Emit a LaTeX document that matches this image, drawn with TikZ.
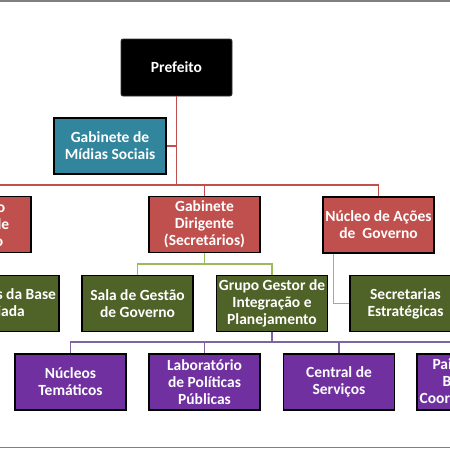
\documentclass[tikz,border=0pt]{standalone}
\usepackage{fontspec}
\setmainfont{Carlito}
\definecolor{boxred}{HTML}{C0504D}
\definecolor{boxteal}{HTML}{31859C}
\definecolor{boxgreen}{HTML}{4F6228}
\definecolor{boxpurple}{HTML}{7030A0}
\definecolor{linered}{HTML}{C0504D}
\definecolor{linegreen}{HTML}{9BBB59}
\definecolor{linepurple}{HTML}{8064A2}
\definecolor{framegray}{HTML}{7F7F7F}
\tikzset{
  orgbox/.style={rectangle, draw=black, line width=1.5pt, minimum width=111pt, minimum height=56pt,
    inner sep=0pt, align=center, text=white, font=\fontsize{15.5}{17}\selectfont\bfseries},
  redbox/.style={orgbox, fill=boxred},
  tealbox/.style={orgbox, fill=boxteal},
  greenbox/.style={orgbox, fill=boxgreen},
  purplebox/.style={orgbox, fill=boxpurple},
  topbox/.style={orgbox, fill=black, draw=black!80, line width=0.8pt, rounded corners=2pt, minimum height=57pt},
  redline/.style={draw=linered, line width=1.5pt},
  greenline/.style={draw=linegreen, line width=1.5pt},
  purpleline/.style={draw=linepurple, line width=1.5pt},
  frameline/.style={draw=framegray, line width=1.5pt}
}
\begin{document}
\begin{tikzpicture}[x=1pt,y=-1pt]
\useasboundingbox (0,0) rectangle (450,450);
\clip (0,0) rectangle (450,450);
\fill[white] (0,0) rectangle (450,450);
% bus coordinates
\coordinate (redbus) at (0,185);
\coordinate (greenbus) at (0,264);
\coordinate (purplebus) at (0,342);
% nodes
\node[topbox] (pref) at (176.5,67.5) {Prefeito};
\node[tealbox, minimum width=112pt] (midias) at (110,146) {Gabinete de\\Mídias Sociais};
\node[redbox] (cons) at (-24.5,224.5) {Conselho\\Político de\\Governo};
\node[redbox] (gabdir) at (204.5,224.5) {Gabinete\\Dirigente\\(Secretários)};
\node[redbox] (nucleo) at (378.5,225) {Núcleo de Ações\\de\ \ Governo};
\node[greenbox, minimum width=130pt] (secbase) at (-6,303.5) {Secretarias da Base\\Ampliada};
\node[greenbox] (sala) at (137.5,303.5) {Sala de Gestão\\de Governo};
\node[greenbox] (grupo) at (272,303.5) {Grupo Gestor de\\Integração e\\Planejamento};
\node[greenbox] (secest) at (405.5,303.5) {Secretarias\\Estratégicas};
\node[purplebox] (nuctem) at (70.5,382) {Núcleos\\Temáticos};
\node[purplebox] (lab) at (204.5,382) {Laboratório\\de Políticas\\Públicas};
\node[purplebox] (central) at (339,382) {Central de\\Serviços};
\node[purplebox, minimum width=90pt] (painel) at (462,382) {Painel de\\Bordo\\Coordenação};
% red connectors
\draw[redline] (pref.south) -- (pref.south |- redbus);
\draw[redline] (midias.east) -- (midias.east -| pref.south);
\draw[redline] (cons.north) -- (cons.north |- redbus) -- (nucleo.north |- redbus) -- (nucleo.north);
\draw[redline] (gabdir.north) -- (gabdir.north |- redbus);
% green connectors
\draw[greenline] (gabdir.south) -- (gabdir.south |- greenbus);
\draw[greenline] (sala.north) -- (sala.north |- greenbus) -- (grupo.north |- greenbus) -- (grupo.north);
\draw[greenline] ([xshift=11pt]nucleo.south west) |- (secest.west);
% purple connectors
\draw[purpleline] (grupo.south) -- (grupo.south |- purplebus);
\draw[purpleline] (nuctem.north) -- (nuctem.north |- purplebus) -- (painel.north |- purplebus) -- (painel.north);
\draw[purpleline] (lab.north) -- (lab.north |- purplebus);
\draw[purpleline] (central.north) -- (central.north |- purplebus);
% frame lines
\coordinate (ftl) at (0,0.75);
\coordinate (ftr) at (450,0.75);
\coordinate (fbl) at (0,447.5);
\coordinate (fbr) at (450,447.5);
\draw[frameline] (ftl) -- (ftr);
\draw[frameline] (fbl) -- (fbr);
\end{tikzpicture}
\end{document}
